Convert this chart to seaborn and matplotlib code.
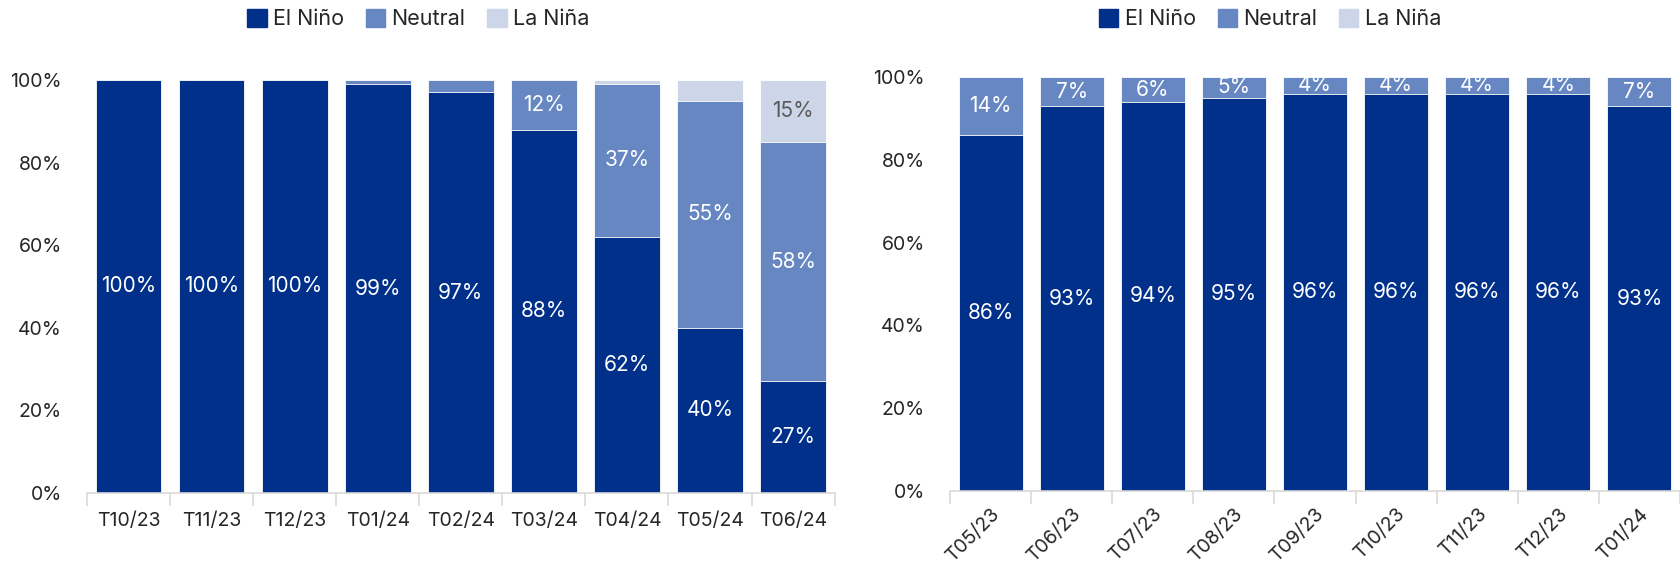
import numpy as np
import pandas as pd
import matplotlib
matplotlib.use('Agg')
import matplotlib.pyplot as plt
import matplotlib.patches as mpatches
import seaborn as sns

# ── COLORS ───────────────────────────────────────────────────────────────────
NAVY  = '#00308A'
MID   = '#6687C2'
LIGHT = '#CDD6E9'
AXIS  = '#D9D9D9'
TXT   = '#262626'

sns.set_theme(style='white')
plt.rcParams['font.family'] = ['Inter', 'DejaVu Sans']

# ── DATA ─────────────────────────────────────────────────────────────────────
left_months  = ['T10/23', 'T11/23', 'T12/23', 'T01/24', 'T02/24', 'T03/24', 'T04/24', 'T05/24', 'T06/24']
left_elnino  = [100, 100, 100, 99, 97, 88, 62, 40, 27]
left_neutral = [0, 0, 0, 1, 3, 12, 37, 55, 58]
left_lanina  = [0, 0, 0, 0, 0, 0, 1, 5, 15]

right_months  = ['T05/23', 'T06/23', 'T07/23', 'T08/23', 'T09/23', 'T10/23', 'T11/23', 'T12/23', 'T01/24']
right_elnino  = [86, 93, 94, 95, 96, 96, 96, 96, 93]
right_neutral = [14, 7, 6, 5, 4, 4, 4, 4, 7]
right_lanina  = [0, 0, 0, 0, 0, 0, 0, 0, 0]

series_names = ['El Niño', 'Neutral', 'La Niña']
series_cols = [NAVY, MID, LIGHT]
label_cols = ['white', 'white', '#595959']


def stacked(ax, months, el, ne, la, min_label, rot):
    df = pd.DataFrame({'month': months, 'El Niño': el, 'Neutral': ne, 'La Niña': la})
    df['c1'] = df['El Niño']
    df['c2'] = df['c1'] + df['Neutral']
    df['c3'] = df['c2'] + df['La Niña']
    # draw cumulative totals back to front
    for col, color in zip(['c3', 'c2', 'c1'], [LIGHT, MID, NAVY]):
        sns.barplot(data=df, x='month', y=col, color=color, width=0.79,
                    edgecolor='white', linewidth=0.6, ax=ax, saturation=1)
    # segment labels
    bottoms = np.zeros(len(df))
    for name, tcol in zip(series_names, label_cols):
        vals = df[name].values
        for i, v in enumerate(vals):
            if v >= min_label:
                ax.text(i, bottoms[i] + v / 2, f'{v}%', ha='center', va='center',
                        color=tcol, fontsize=15)
        bottoms = bottoms + vals
    ax.set_ylim(0, 100)
    ax.set_xlim(-0.5, len(df) - 0.5)
    ax.set_yticks(range(0, 101, 20))
    ax.set_yticklabels([f'{t}%' for t in range(0, 101, 20)], fontsize=14, color=TXT)
    ax.set_xticks(range(len(df)))
    ax.set_xticks(np.arange(-0.5, len(df)), minor=True)
    if rot:
        ax.set_xticklabels(months, rotation=45, ha='right', rotation_mode='anchor',
                           fontsize=14, color=TXT)
        ax.tick_params(axis='x', which='major', length=0, pad=10)
    else:
        ax.set_xticklabels(months, fontsize=14, color=TXT)
        ax.tick_params(axis='x', which='major', length=0, pad=14)
    ax.tick_params(axis='x', which='minor', length=9, color=AXIS, width=1.2, bottom=True)
    ax.tick_params(axis='y', length=0, pad=18)
    ax.set_xlabel('')
    ax.set_ylabel('')
    for s in ['top', 'right', 'left']:
        ax.spines[s].set_visible(False)
    ax.spines['bottom'].set_color(AXIS)
    ax.spines['bottom'].set_linewidth(1.2)


fig = plt.figure(figsize=(16.8, 5.67), dpi=100)
ax1 = fig.add_axes([0.0518, 0.1305, 0.445, 0.7285])
ax2 = fig.add_axes([0.5655, 0.134, 0.4345, 0.730])

stacked(ax1, left_months, left_elnino, left_neutral, left_lanina, 10, False)
stacked(ax2, right_months, right_elnino, right_neutral, right_lanina, 1, True)

handles = [mpatches.Patch(color=c, label=n) for n, c in zip(series_names, series_cols)]
for xc in [0.249, 0.756]:
    fig.legend(handles=handles, loc='center', bbox_to_anchor=(xc, 0.966), ncol=3,
               frameon=False, fontsize=15.5, handlelength=0.9, handleheight=0.9,
               handletextpad=0.3, columnspacing=1.0)

plt.savefig('out.png', dpi=100)
plt.close()
